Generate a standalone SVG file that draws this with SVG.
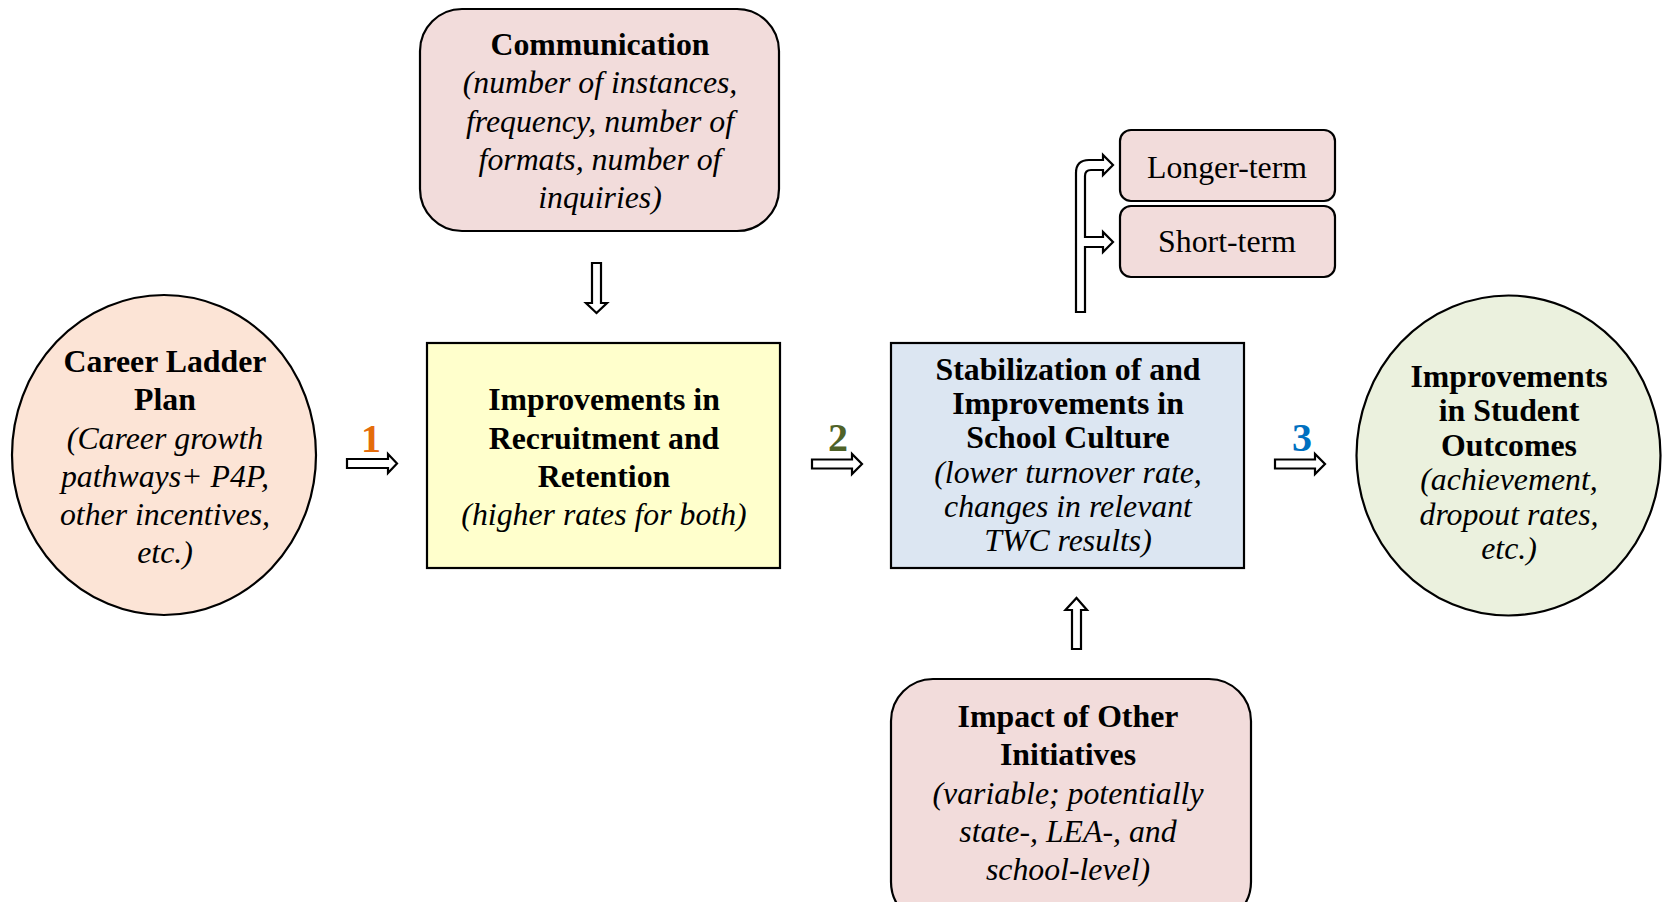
<svg xmlns="http://www.w3.org/2000/svg" width="1667" height="902" viewBox="0 0 1667 902">
<style>
text{font-family:"Liberation Serif","Times New Roman",serif;font-size:31.8px;fill:#000;text-anchor:middle}
.b{font-weight:bold}
.i{font-style:italic}
.n{stroke:#000;stroke-width:2.2}
.ar{fill:#fff;stroke:#000;stroke-width:2.2;stroke-linejoin:miter}
.num{font-weight:bold;font-size:40px}
</style>
<rect width="1667" height="902" fill="#fff"/>
<g id="career">
<ellipse class="n" cx="164" cy="455" rx="152" ry="160" fill="#FCE4D6"/>
<text x="165" y="372" class="b">Career Ladder</text>
<text x="165" y="410" class="b">Plan</text>
<text x="165" y="448.5" class="i">(Career growth</text>
<text x="165" y="487" class="i">pathways+ P4P,</text>
<text x="165" y="525" class="i">other incentives,</text>
<text x="165" y="563" class="i">etc.)</text>
</g>
<g id="communication">
<rect class="n" x="420" y="9" width="359" height="222" rx="42" fill="#F2DCDB"/>
<text x="600" y="55" class="b">Communication</text>
<text x="600" y="93" class="i">(number of instances,</text>
<text x="600" y="131.5" class="i">frequency, number of</text>
<text x="600" y="170" class="i">formats, number of</text>
<text x="600" y="208" class="i">inquiries)</text>
</g>
<g id="recruitment">
<rect class="n" x="427" y="343" width="353" height="225" fill="#FFFFCC"/>
<text x="604" y="410" class="b">Improvements in</text>
<text x="604" y="448.5" class="b">Recruitment and</text>
<text x="604" y="487" class="b">Retention</text>
<text x="604" y="525" class="i">(higher rates for both)</text>
</g>
<g id="culture">
<rect class="n" x="891" y="343" width="353" height="225" fill="#DCE6F2"/>
<text x="1068" y="380" class="b">Stabilization of and</text>
<text x="1068" y="414.2" class="b">Improvements in</text>
<text x="1068" y="448.4" class="b">School Culture</text>
<text x="1068" y="482.6" class="i">(lower turnover rate,</text>
<text x="1068" y="516.8" class="i">changes in relevant</text>
<text x="1068" y="551" class="i">TWC results)</text>
</g>
<g id="outcomes">
<ellipse class="n" cx="1508.5" cy="455.5" rx="152" ry="160" fill="#EBF1DE"/>
<text x="1509" y="387" class="b">Improvements</text>
<text x="1509" y="421" class="b">in Student</text>
<text x="1509" y="456" class="b">Outcomes</text>
<text x="1509" y="490" class="i">(achievement,</text>
<text x="1509" y="525" class="i">dropout rates,</text>
<text x="1509" y="559" class="i">etc.)</text>
</g>
<g id="impact">
<rect class="n" x="891" y="679" width="360" height="245" rx="42" fill="#F2DCDB"/>
<text x="1068" y="727" class="b">Impact of Other</text>
<text x="1068" y="765" class="b">Initiatives</text>
<text x="1068" y="803.5" class="i">(variable; potentially</text>
<text x="1068" y="842" class="i">state-, LEA-, and</text>
<text x="1068" y="880" class="i">school-level)</text>
</g>
<g id="longer">
<rect class="n" x="1120" y="130" width="215" height="71" rx="11" fill="#F2DCDB"/>
<text x="1227" y="177.5">Longer-term</text>
</g>
<g id="shorter">
<rect class="n" x="1120" y="206" width="215" height="71" rx="11" fill="#F2DCDB"/>
<text x="1227" y="252">Short-term</text>
</g>
<g id="connectors">
<path class="ar" d="M347,459 H388 V454 L397,463.5 L388,473 V468 H347 Z"/>
<path class="ar" d="M812,459.5 H852 V454 L862,464 L852,474 V468.5 H812 Z"/>
<path class="ar" d="M1275,459.5 H1315 V454 L1325,464 L1315,474 V468.5 H1275 Z"/>
<path class="ar" d="M592,263 H601 V303 H607 L596.5,313 L586,303 H592 Z"/>
<path class="ar" d="M1072,649 V610 H1065.5 L1076.5,598 L1087,610 H1081 V649 Z"/>
<path class="ar" d="M1076,312 V173 Q1076,160 1089,160 H1103 V155 L1113,165 L1103,175 V170 H1091 Q1085,170 1085,176 V237 H1103 V232 L1113,242 L1103,252 V247 H1085 V312 Z"/>
<text x="371" y="452" class="num" style="fill:#E46C0A">1</text>
<text x="838" y="451" class="num" style="fill:#4F6228">2</text>
<text x="1302" y="451" class="num" style="fill:#0070C0">3</text>
</g>
</svg>
